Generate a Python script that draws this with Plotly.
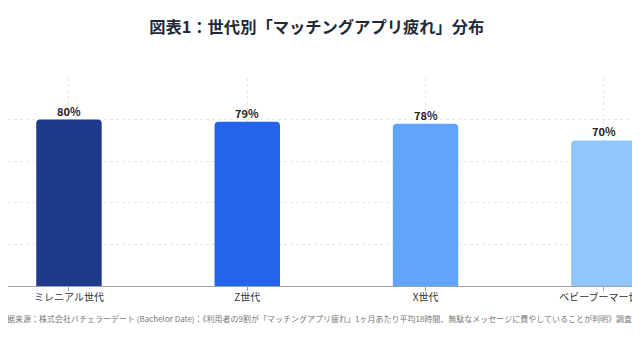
import plotly.graph_objects as go

categories = ["ミレニアル世代", "Z世代", "X世代", "ベビーブーマー世代"]
values = [80, 79, 78, 70]
labels = ["80%", "79%", "78%", "70%"]
colors = ["#1e3a8a", "#2563eb", "#60a5fa", "#93c5fd"]

title_text = "図表1：世代別「マッチングアプリ疲れ」分布"
source_text = ("数据来源：株式会社バチェラーデート (Bachelor Date)：《利用者の9割が「マッチングアプリ疲れ」"
               "1ヶ月あたり平均18時間、無駄なメッセージに費やしていることが判明》調査报告")

FONT = "Noto Sans CJK JP, Noto Sans, sans-serif"
x_idx = list(range(len(categories)))

fig = go.Figure()
fig.add_trace(go.Bar(
    x=x_idx,
    y=values,
    marker=dict(color=colors, cornerradius=4, line=dict(width=0)),
    width=0.367,
    hoverinfo="skip",
))

value_annotations = [
    dict(x=xi, y=v, xref="x", yref="y", text=f"<b>{lab}</b>",
         showarrow=False, xanchor="center", yanchor="middle", yshift=9,
         font=dict(family=FONT, size=11, color="#222222"))
    for xi, v, lab in zip(x_idx, values, labels)
]

fig.update_layout(
    width=640, height=360,
    margin=dict(l=0, r=0, t=70, b=82),
    paper_bgcolor="white", plot_bgcolor="white",
    showlegend=False,
    font=dict(family=FONT, color="#333333"),
    title=dict(text="<b>" + title_text + "</b>", x=0.487, xanchor="center",
               xref="paper",
               y=0.947, yanchor="middle",
               font=dict(family=FONT, size=16.3, color="#1f2937")),
    xaxis=dict(
        range=[-0.342, 3.214],
        tickmode="array",
        tickvals=x_idx,
        ticktext=categories,
        tickfont=dict(family=FONT, size=10, color="#333333"),
        ticklabeloverflow="allow",
        ticklabelstandoff=-2,
        showline=True, linecolor="#9ca3af", linewidth=1,
        ticks="outside", ticklen=4, tickcolor="#9ca3af",
        showgrid=True, gridcolor="#e5e7eb", griddash="dot", gridwidth=1,
        zeroline=False, fixedrange=True,
    ),
    yaxis=dict(
        range=[0, 100],
        tickvals=[0, 20, 40, 60, 80, 100],
        showticklabels=False,
        showgrid=True, gridcolor="#e5e7eb", griddash="dot", gridwidth=1,
        zeroline=False, showline=False, fixedrange=True,
    ),
    annotations=value_annotations + [dict(
        text=source_text, xref="paper", yref="paper",
        x=0.4977, y=-0.154, xanchor="center", yanchor="middle",
        showarrow=False,
        font=dict(family=FONT, size=8.0, color="#777777"),
    )],
)

fig.write_html("out.html")
